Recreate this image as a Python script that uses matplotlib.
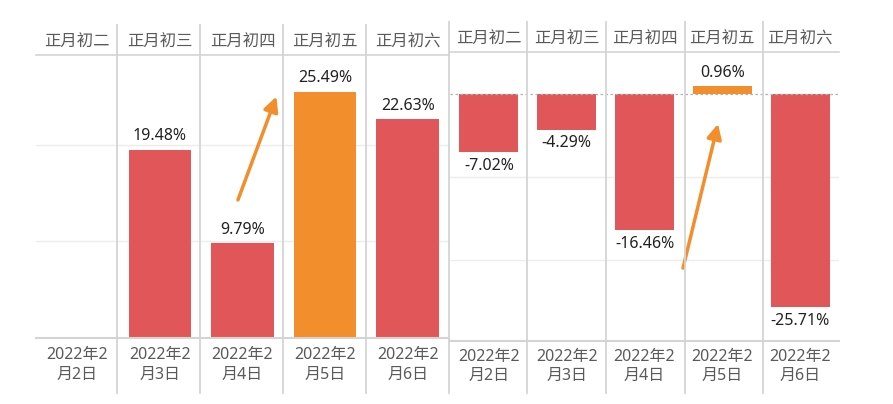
import numpy as np
import matplotlib
matplotlib.use("Agg")
import matplotlib.pyplot as plt
from matplotlib.lines import Line2D

plt.rcParams['font.family'] = ['Noto Sans', 'Noto Sans CJK SC', 'DejaVu Sans']

days = ['正月初二', '正月初三', '正月初四', '正月初五', '正月初六']
dates = ['2022年2\n月2日', '2022年2\n月3日', '2022年2\n月4日', '2022年2\n月5日', '2022年2\n月6日']
left_vals = [np.nan, 19.48, 9.79, 25.49, 22.63]
right_vals = [-7.02, -4.29, -16.46, 0.96, -25.71]
highlight = 3

RED = '#E15759'
ORANGE = '#F28E2B'
SEP = '#d4d4d4'
GRID = '#ececec'
HEAD = '#5a5a5a'
LABEL = '#222222'

W, H = 893, 404
fig = plt.figure(figsize=(W / 100, H / 100), dpi=100)


def rect(x0, y0, x1, y1):
    return [x0 / W, 1 - y1 / H, (x1 - x0) / W, (y1 - y0) / H]


def panel(x0, x1, ytop, yhead, yfoot, ybot, vals, ylim, grid, zero_dashed):
    n = len(days)
    # header
    axh = fig.add_axes(rect(x0, ytop, x1, yhead))
    axh.set_xlim(-0.5, n - 0.5)
    axh.set_ylim(0, 1)
    axh.axis('off')
    for i, d in enumerate(days):
        axh.text(i, 0.42, d, ha='center', va='center', fontsize=11.8, color=HEAD)
    # main
    ax = fig.add_axes(rect(x0, yhead, x1, yfoot))
    ax.set_xlim(-0.5, n - 0.5)
    ax.set_ylim(*ylim)
    for s in ax.spines.values():
        s.set_visible(False)
    ax.set_xticks([])
    ax.set_yticks([])
    for g in grid:
        ax.axhline(g, color=GRID, lw=1, zorder=0)
    if zero_dashed:
        ax.axhline(0, color='#b0b0b0', lw=0.9, ls=(0, (2, 2)), zorder=3)
    colors = [ORANGE if i == highlight else RED for i in range(n)]
    xs = np.arange(n)
    v = np.array(vals, dtype=float)
    ax.bar(xs, np.nan_to_num(v), width=0.76, color=colors, zorder=2)
    for i, val in enumerate(v):
        if np.isnan(val):
            continue
        if val >= 0:
            ax.annotate(f'{val:.2f}%', (i, val), xytext=(0, 4), textcoords='offset points',
                        ha='center', va='bottom', fontsize=11.5, color=LABEL)
        else:
            ax.annotate(f'{val:.2f}%', (i, val), xytext=(0, -4), textcoords='offset points',
                        ha='center', va='top', fontsize=11.5, color=LABEL)
    # footer
    axf = fig.add_axes(rect(x0, yfoot, x1, ybot))
    axf.set_xlim(-0.5, n - 0.5)
    axf.set_ylim(0, 1)
    axf.axis('off')
    for i, d in enumerate(dates):
        axf.text(i, 0.5, d, ha='center', va='center', fontsize=11.5, color=HEAD,
                 linespacing=1.3)
    # horizontal separator lines
    fig.add_artist(Line2D([x0 / W, x1 / W], [1 - yhead / H] * 2, color=SEP, lw=1.2))
    fig.add_artist(Line2D([x0 / W, x1 / W], [1 - yfoot / H] * 2, color=SEP, lw=1.5))
    return ax


axL = panel(36, 449, 25, 55, 338, 392, left_vals, (0, 29.3), [10, 20], False)
axR = panel(450, 839, 22, 52, 341, 392, right_vals, (-29.8, 5.07), [-10, -20], True)

# vertical separators
for x, yt in [(117, 25), (200, 25), (283, 25), (366, 25), (449, 22), (527, 22), (606, 22), (685, 22), (763, 22)]:
    fig.add_artist(Line2D([x / W] * 2, [1 - yt / H, 1 - 393 / H], color=SEP, lw=1.3))

# arrows
arrow = dict(arrowstyle='-|>', color=ORANGE, lw=2.5, mutation_scale=22, shrinkA=0, shrinkB=0)
axL.annotate('', xy=(2.41, 25.0), xytext=(1.945, 14.3), arrowprops=arrow, zorder=5)
axR.annotate('', xy=(2.945, -3.6), xytext=(2.495, -21.0), arrowprops=arrow, zorder=5)

fig.savefig('out.png', dpi=100, facecolor='white')
